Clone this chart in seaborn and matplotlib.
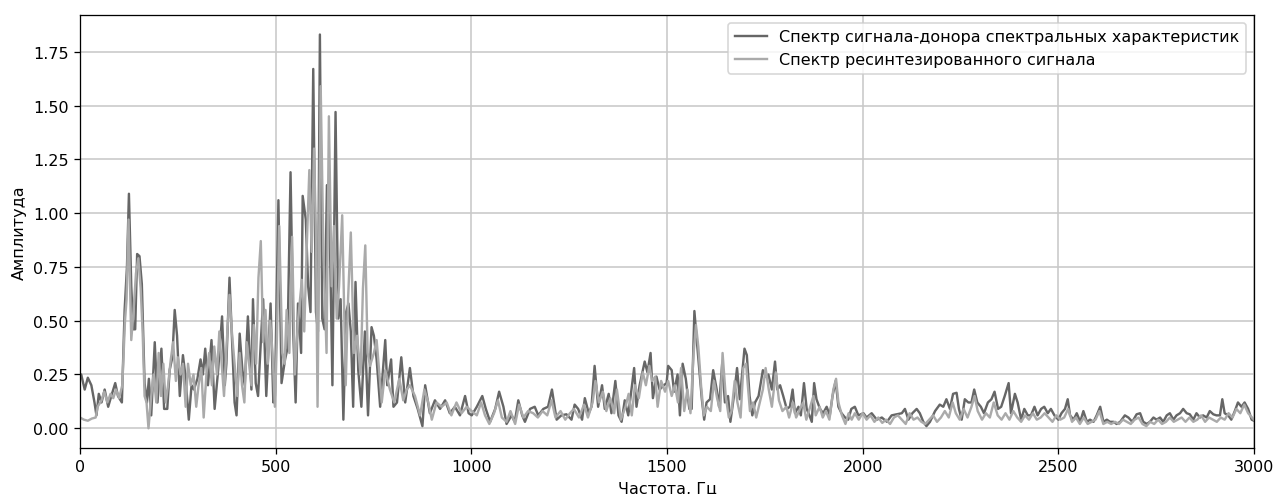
import matplotlib
matplotlib.use('Agg')
import matplotlib.pyplot as plt
import seaborn as sns
import pandas as pd

# spectrum of the donor signal (Hz / amplitude)
donor_freq = [0, 3, 12, 20, 29, 37, 42, 48, 55, 63, 72, 80, 90, 97, 107, 114, 120, 125, 131, 136,
              141, 146, 152, 158, 165, 171, 176, 182, 191, 198, 208, 215, 223, 229, 236, 242, 248, 255, 263, 269,
              278, 285, 291, 300, 308, 314, 320, 327, 336, 344, 353, 363, 370, 374, 382, 388, 395, 400, 408, 415,
              421, 429, 438, 442, 449, 455, 462, 468, 476, 487, 494, 498, 507, 515, 524, 530, 538, 545, 551, 557,
              565, 569, 577, 583, 589, 596, 603, 608, 613, 619, 625, 631, 638, 645, 653, 660, 666, 673, 680, 686,
              692, 698, 704, 711, 719, 728, 736, 745, 751, 758, 767, 780, 785, 795, 801, 810, 821, 831, 843, 852,
              863, 875, 882, 894, 907, 920, 933, 945, 958, 971, 984,
              993, 1001, 1014, 1028, 1037, 1048, 1061, 1071, 1082, 1090, 1103, 1111, 1120, 1130, 1137, 1150, 1162, 1171, 1184, 1196,
              1206, 1218, 1230, 1243, 1256, 1264, 1273, 1283, 1290, 1300, 1307, 1315, 1324, 1334, 1341, 1351, 1358, 1368, 1376, 1384,
              1392, 1401, 1416, 1422, 1430, 1443, 1450, 1458, 1464, 1473, 1481, 1492,
              1499, 1503, 1512, 1518, 1527, 1533, 1540, 1548, 1557, 1563, 1570, 1576, 1583, 1589, 1595, 1601, 1610, 1618, 1627, 1633,
              1641, 1648, 1656, 1662, 1671, 1679, 1686, 1698, 1704, 1711, 1718, 1725, 1734, 1745, 1753, 1759, 1768, 1776, 1782, 1789,
              1797, 1806, 1814, 1821, 1827, 1836, 1842, 1850, 1857, 1864, 1870, 1876, 1882, 1891, 1899, 1908, 1916, 1923, 1931, 1938,
              1946, 1955, 1963, 1971, 1980, 1989,
              2002, 2010, 2023, 2036, 2049, 2062, 2074, 2087, 2100, 2108, 2117, 2127, 2138, 2146, 2155, 2163, 2172, 2185, 2197, 2206,
              2214, 2223, 2231, 2240, 2246, 2253, 2261, 2270, 2278, 2285, 2293, 2302, 2310, 2320, 2329, 2337, 2346, 2354, 2363, 2373,
              2379, 2389, 2396, 2405, 2413, 2422, 2430, 2439, 2447, 2456, 2464, 2473, 2481, 2490,
              2500, 2508, 2517, 2524, 2530, 2539, 2547, 2556, 2564, 2573, 2581, 2590, 2598, 2607, 2615, 2624, 2632, 2641, 2649, 2658,
              2670, 2679, 2689, 2700, 2709, 2717, 2726, 2734, 2743, 2751, 2760, 2768, 2777, 2785, 2794, 2802, 2811, 2819, 2828, 2836,
              2845, 2853, 2862, 2870, 2879, 2887, 2896, 2904, 2913, 2919, 2925, 2934, 2942, 2951, 2959, 2968, 2976, 2985, 2994, 3000]
donor_amp = [0.24, 0.25, 0.18, 0.235, 0.20, 0.12, 0.06, 0.16, 0.12, 0.18, 0.10, 0.15, 0.21, 0.15, 0.12, 0.55, 0.75, 1.09, 0.66, 0.46,
             0.46, 0.81, 0.80, 0.67, 0.21, 0.12, 0.23, 0.06, 0.40, 0.12, 0.37, 0.09, 0.09, 0.27, 0.33, 0.55, 0.43, 0.15, 0.34, 0.25,
             0.04, 0.20, 0.18, 0.23, 0.32, 0.25, 0.37, 0.20, 0.41, 0.09, 0.27, 0.52, 0.20, 0.30, 0.70, 0.43, 0.12, 0.06, 0.44, 0.27,
             0.20, 0.52, 0.18, 0.60, 0.21, 0.15, 0.40, 0.60, 0.15, 0.58, 0.12, 0.15, 1.06, 0.21, 0.32, 0.37, 1.19, 0.44, 0.12, 0.58,
             0.35, 1.08, 0.97, 0.66, 0.54, 1.67, 0.54, 0.45, 1.83, 0.51, 0.46, 1.13, 0.94, 0.20, 1.47, 0.51, 0.60, 0.04, 0.54, 0.58,
             0.45, 0.10, 0.68, 0.27, 0.10, 0.45, 0.06, 0.47, 0.43, 0.32, 0.10, 0.41, 0.20, 0.32, 0.10, 0.12, 0.33, 0.12, 0.28, 0.15,
             0.09, 0.01, 0.20, 0.07, 0.13, 0.09, 0.13, 0.07, 0.10, 0.06, 0.15,
             0.07, 0.06, 0.10, 0.15, 0.09, 0.03, 0.09, 0.17, 0.10, 0.02, 0.06, 0.03, 0.13, 0.06, 0.03, 0.09, 0.10, 0.06, 0.09, 0.10,
             0.18, 0.04, 0.06, 0.065, 0.04, 0.11, 0.09, 0.04, 0.14, 0.07, 0.10, 0.29, 0.10, 0.20, 0.09, 0.16, 0.07, 0.22, 0.06, 0.03,
             0.13, 0.06, 0.28, 0.10, 0.20, 0.31, 0.26, 0.35, 0.14, 0.24, 0.18, 0.20,
             0.21, 0.29, 0.27, 0.17, 0.25, 0.06, 0.30, 0.23, 0.09, 0.09, 0.545, 0.41, 0.26, 0.135, 0.04, 0.12, 0.135, 0.27, 0.18, 0.10,
             0.30, 0.12, 0.15, 0.03, 0.15, 0.28, 0.135, 0.37, 0.34, 0.15, 0.06, 0.12, 0.15, 0.27, 0.24, 0.25, 0.18, 0.31, 0.18, 0.20,
             0.15, 0.09, 0.10, 0.18, 0.07, 0.10, 0.06, 0.21, 0.09, 0.06, 0.03, 0.21, 0.135, 0.09, 0.07, 0.10, 0.06, 0.15, 0.22, 0.10,
             0.07, 0.05, 0.04, 0.09, 0.10, 0.06,
             0.07, 0.05, 0.07, 0.04, 0.05, 0.03, 0.06, 0.065, 0.07, 0.09, 0.04, 0.07, 0.09, 0.07, 0.03, 0.01, 0.03, 0.08, 0.11, 0.10,
             0.135, 0.09, 0.16, 0.165, 0.09, 0.04, 0.135, 0.12, 0.12, 0.18, 0.12, 0.10, 0.07, 0.12, 0.135, 0.17, 0.09, 0.10, 0.15, 0.21,
             0.07, 0.16, 0.12, 0.04, 0.09, 0.06, 0.06, 0.10, 0.06, 0.09, 0.10, 0.07, 0.09, 0.06,
             0.04, 0.07, 0.09, 0.135, 0.06, 0.04, 0.07, 0.03, 0.08, 0.03, 0.04, 0.03, 0.06, 0.10, 0.03, 0.04, 0.03, 0.03, 0.02, 0.03,
             0.06, 0.05, 0.03, 0.065, 0.07, 0.03, 0.02, 0.03, 0.05, 0.04, 0.05, 0.03, 0.06, 0.07, 0.04, 0.06, 0.07, 0.09, 0.07, 0.065,
             0.04, 0.07, 0.05, 0.06, 0.05, 0.08, 0.065, 0.06, 0.06, 0.135, 0.07, 0.06, 0.04, 0.08, 0.12, 0.10, 0.12, 0.09, 0.04, 0.035]

# spectrum of the resynthesized signal
resyn_freq = [0, 10, 20, 30, 40, 45, 55, 62, 70, 78, 85, 92, 100, 108, 115, 119, 124, 131, 137, 143,
              149, 155, 160, 165, 170, 175, 182, 188, 195, 201, 207, 213, 219, 225, 232, 238, 245, 250, 257, 263,
              270, 276, 283, 290, 297, 303, 310, 316, 323, 330, 337, 343, 350, 356, 362, 368, 375, 382, 388, 395,
              402, 408, 414, 420, 426, 432, 438, 444, 450, 456, 462, 468, 474, 480, 486, 492, 498, 503, 509, 517,
              523, 528, 535, 542, 549, 557, 567, 573, 579, 586, 592, 598, 603, 607, 615, 622, 630, 636, 643, 649,
              656, 662, 670, 679, 685, 692, 700, 708, 717, 723, 729, 735, 741, 751, 758, 771, 780, 792, 803, 816,
              826, 835, 843, 856, 869, 880, 890, 899, 911, 924, 937, 949, 962, 975, 988,
              1001, 1014, 1025, 1035, 1046, 1058, 1068, 1078, 1090, 1100, 1112, 1122, 1133, 1145, 1158, 1170, 1182, 1194, 1205, 1215,
              1228, 1240, 1252, 1262, 1275, 1288, 1298, 1310, 1317, 1326, 1336, 1345, 1355, 1365, 1372, 1382, 1394, 1402, 1410, 1418,
              1428, 1438, 1446, 1455, 1462, 1470, 1476, 1485, 1495,
              1503, 1512, 1520, 1528, 1536, 1544, 1552, 1560, 1568, 1574, 1580, 1587, 1594, 1602, 1612, 1620, 1628, 1636, 1642, 1650,
              1658, 1665, 1673, 1680, 1688, 1695, 1702, 1712, 1720, 1728, 1737, 1745, 1752, 1760, 1768, 1778, 1786, 1795, 1805, 1812,
              1822, 1830, 1840, 1848, 1856, 1866, 1874, 1880, 1890, 1898, 1906, 1915, 1925, 1932, 1938, 1947, 1956, 1964, 1972, 1980,
              1990,
              2000, 2010, 2020, 2030, 2040, 2050, 2060, 2070, 2080, 2090, 2100, 2110, 2120, 2130, 2140, 2150, 2160, 2170, 2180, 2190,
              2200, 2210, 2220, 2230, 2238, 2248, 2258, 2268, 2278, 2286, 2294, 2305, 2315, 2325, 2335, 2345, 2355, 2365, 2375, 2385,
              2395, 2405, 2415, 2425, 2435, 2445, 2455, 2465, 2475, 2485, 2495,
              2505, 2515, 2525, 2535, 2545, 2555, 2565, 2575, 2585, 2595, 2605, 2615, 2625, 2635, 2645, 2655, 2665, 2675, 2685, 2695,
              2705, 2715, 2725, 2735, 2745, 2755, 2765, 2775, 2785, 2795, 2805, 2815, 2825, 2835, 2845, 2855, 2865, 2875, 2885, 2895,
              2905, 2915, 2925, 2935, 2945, 2955, 2965, 2975, 2985, 2995, 3000]
resyn_amp = [0.05, 0.04, 0.035, 0.045, 0.05, 0.10, 0.13, 0.17, 0.12, 0.16, 0.14, 0.18, 0.14, 0.20, 0.50, 0.60, 0.97, 0.41, 0.55, 0.72,
             0.79, 0.65, 0.45, 0.15, 0.12, 0.00, 0.15, 0.25, 0.12, 0.35, 0.15, 0.30, 0.12, 0.20, 0.32, 0.40, 0.22, 0.33, 0.25, 0.30,
             0.10, 0.30, 0.20, 0.25, 0.10, 0.20, 0.28, 0.05, 0.25, 0.35, 0.20, 0.38, 0.25, 0.45, 0.30, 0.15, 0.40, 0.62, 0.45, 0.30,
             0.15, 0.35, 0.20, 0.12, 0.40, 0.30, 0.20, 0.48, 0.30, 0.70, 0.87, 0.40, 0.55, 0.30, 0.50, 0.35, 0.10, 0.40, 0.94, 0.35,
             0.30, 0.55, 0.35, 0.89, 0.25, 0.50, 0.69, 0.45, 0.82, 1.20, 0.82, 1.30, 0.90, 0.10, 1.59, 0.82, 0.35, 1.45, 0.66, 0.94,
             0.51, 0.66, 0.99, 0.20, 0.60, 0.91, 0.35, 0.43, 0.25, 0.65, 0.85, 0.35, 0.29, 0.35, 0.41, 0.12, 0.27, 0.18, 0.12, 0.23,
             0.13, 0.18, 0.20, 0.15, 0.06, 0.18, 0.12, 0.04, 0.12, 0.10, 0.12, 0.06, 0.12, 0.07, 0.10,
             0.08, 0.06, 0.12, 0.06, 0.02, 0.07, 0.13, 0.05, 0.03, 0.08, 0.02, 0.11, 0.05, 0.08, 0.07, 0.05, 0.08, 0.06, 0.13, 0.05,
             0.08, 0.04, 0.07, 0.09, 0.05, 0.11, 0.05, 0.12, 0.22, 0.12, 0.17, 0.08, 0.14, 0.07, 0.18, 0.04, 0.10, 0.16, 0.06, 0.20,
             0.14, 0.26, 0.20, 0.29, 0.22, 0.24, 0.10, 0.22, 0.17,
             0.22, 0.15, 0.20, 0.12, 0.28, 0.08, 0.18, 0.07, 0.35, 0.48, 0.38, 0.20, 0.06, 0.10, 0.08, 0.22, 0.14, 0.08, 0.35, 0.15,
             0.05, 0.08, 0.22, 0.12, 0.05, 0.28, 0.30, 0.08, 0.12, 0.05, 0.12, 0.18, 0.28, 0.18, 0.10, 0.26, 0.13, 0.08, 0.10, 0.05,
             0.12, 0.05, 0.09, 0.12, 0.04, 0.10, 0.15, 0.06, 0.10, 0.05, 0.08, 0.04, 0.18, 0.23, 0.12, 0.06, 0.02, 0.07, 0.04, 0.07,
             0.04,
             0.07, 0.04, 0.06, 0.03, 0.05, 0.025, 0.04, 0.02, 0.05, 0.06, 0.04, 0.02, 0.07, 0.04, 0.05, 0.03, 0.02, 0.04, 0.06, 0.03,
             0.05, 0.08, 0.05, 0.12, 0.07, 0.04, 0.09, 0.05, 0.10, 0.15, 0.08, 0.04, 0.07, 0.05, 0.12, 0.06, 0.04, 0.07, 0.04, 0.08,
             0.05, 0.03, 0.06, 0.04, 0.07, 0.04, 0.05, 0.07, 0.05, 0.03, 0.06,
             0.04, 0.05, 0.09, 0.03, 0.05, 0.02, 0.05, 0.02, 0.03, 0.04, 0.08, 0.02, 0.03, 0.02, 0.03, 0.02, 0.04, 0.03, 0.02, 0.04,
             0.05, 0.02, 0.01, 0.03, 0.02, 0.04, 0.02, 0.03, 0.05, 0.03, 0.04, 0.05, 0.03, 0.05, 0.03, 0.04, 0.06, 0.03, 0.05, 0.04,
             0.03, 0.05, 0.04, 0.07, 0.05, 0.09, 0.07, 0.11, 0.07, 0.05, 0.04]

label_donor = 'Спектр сигнала-донора спектральных характеристик'
label_resyn = 'Спектр ресинтезированного сигнала'

df = pd.concat([
    pd.DataFrame({'freq': donor_freq, 'amp': donor_amp, 'series': label_donor}),
    pd.DataFrame({'freq': resyn_freq, 'amp': resyn_amp, 'series': label_resyn}),
])

# the reference looks rendered at a higher dpi, so fonts and lines are a bit larger
fig, ax = plt.subplots(figsize=(1274 / 115, 495 / 115), dpi=115)
fig.subplots_adjust(left=0.0628, right=0.9843, top=0.968, bottom=0.093)

sns.lineplot(data=df, x='freq', y='amp', hue='series', estimator=None, sort=False,
             palette={label_donor: '#666666', label_resyn: '#aaaaaa'}, linewidth=1.5, ax=ax)

ax.set_xlim(0, 3000)
ax.grid(True, color='#c8c8c8', linewidth=1.0)
ax.set_xlabel('Частота, Гц')
ax.set_ylabel('Амплитуда')
ax.legend(loc='upper right')

plt.savefig('out.png', dpi=115)
